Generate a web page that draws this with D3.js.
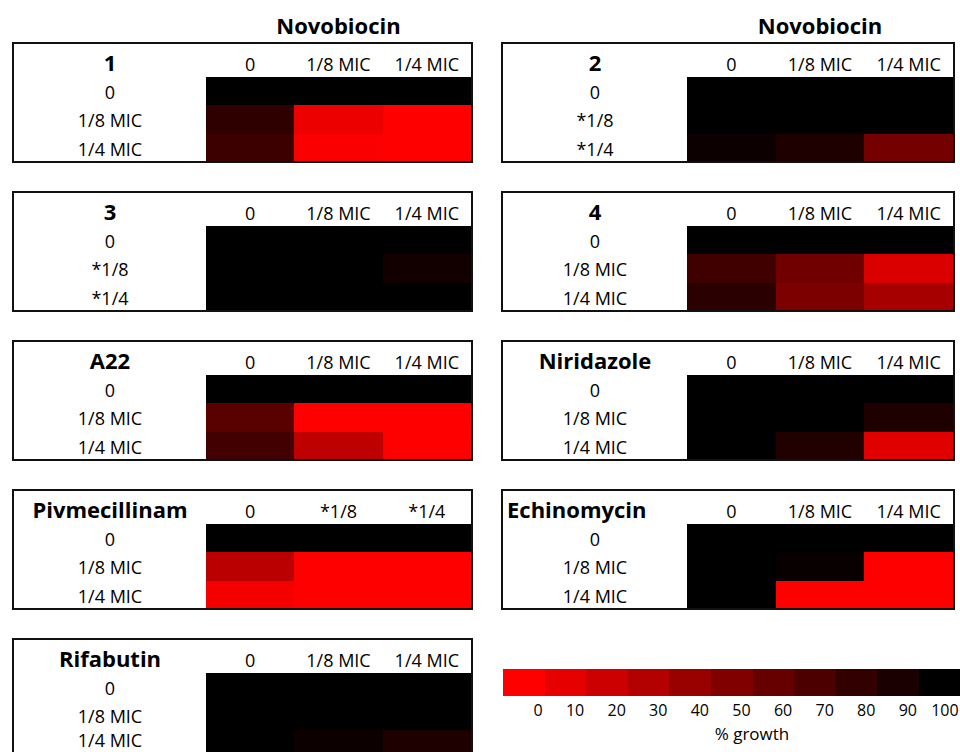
<!DOCTYPE html>
<html lang="en">
<head>
<meta charset="UTF-8">
<title>Growth heatmaps</title>
<script src="https://d3js.org/d3.v7.min.js"></script>
<style>
  body { margin: 0; background: #fff; }
  text { font-family: 'Open Sans', 'Noto Sans', sans-serif; fill: #000; }
  .title { font-size: 22px; font-weight: bold; }
  .lab { font-size: 18px; }
  .tick { font-size: 16px; }
  .ltitle { font-size: 17px; }
  rect.cell, rect.swatch { shape-rendering: crispEdges; }
</style>
</head>
<body>
<script>
  const width = 960;
  const height = 752;

  // panel names, in reading order (left, right, left, right ...)
  const panelNames = ["1", "2", "3", "4", "A22", "Niridazole", "Pivmecillinam", "Echinomycin", "Rifabutin"];
  const topTitle = "Novobiocin";

  const labelsMic  = ["0", "1/8 MIC", "1/4 MIC"];
  const labelsStar = ["0", "*1/8", "*1/4"];

  const rowLabels = [labelsMic, labelsStar, labelsStar, labelsMic, labelsMic, labelsMic, labelsMic, labelsMic, labelsMic];
  const colLabels = [labelsMic, labelsMic, labelsMic, labelsMic, labelsMic, labelsMic, labelsStar, labelsMic, labelsMic];

  // % growth, rows x columns
  const growth1          = [[100, 100, 100], [82, 7, 0], [76, 2, 0]];
  const growth2          = [[100, 100, 100], [100, 100, 100], [95, 88, 54]];
  const growth3          = [[100, 100, 100], [100, 100, 93], [100, 100, 100]];
  const growth4          = [[100, 100, 100], [75, 56, 14], [83, 51, 35]];
  const growthA22        = [[100, 100, 100], [65, 0, 0], [74, 25, 0]];
  const growthNiridazole = [[100, 100, 100], [100, 100, 88], [100, 87, 12]];
  const growthPivmec     = [[100, 100, 100], [27, 0, 0], [4, 0, 0]];
  const growthEchino     = [[100, 100, 100], [100, 97, 0], [100, 0, 0]];
  const growthRifabutin  = [[100, 100, 100], [100, 100, 100], [100, 95, 88]];

  const growth = [growth1, growth2, growth3, growth4, growthA22, growthNiridazole, growthPivmec, growthEchino, growthRifabutin];

  const legendTicks = [0, 10, 20, 30, 40, 50, 60, 70, 80, 90, 100];
  const legendTitle = "% growth";

  const color = d3.scaleLinear().domain([0, 100]).range(["#ff0000", "#000000"]);

  const svg = d3.select("body").append("svg")
      .attr("width", width).attr("height", height);

  // left and right column geometry
  const columns = [
    { boxL: 13, boxR: 472, heatL: 206, heatR: 471, labelX: 110 },
    { boxL: 502, boxR: 954, heatL: 687, heatR: 953, labelX: 595 }
  ];
  const top0 = 43, step = 149, headH = 34, heatH = 85, boxH = 119;

  growth.forEach((values, i) => {
    const c = columns[i % 2];
    const y0 = top0 + Math.floor(i / 2) * step;
    const g = svg.append("g");

    const x = d3.scaleBand().domain(d3.range(3)).range([c.heatL, c.heatR]);
    const y = d3.scaleBand().domain(d3.range(3)).range([y0 + headH, y0 + headH + heatH]);

    const cells = values.flatMap((row, r) => row.map((v, k) => ({ r, k, v })));
    g.selectAll("rect.cell").data(cells).join("rect")
        .attr("class", "cell")
        .attr("x", d => x(d.k))
        .attr("y", d => y(d.r))
        .attr("width", x.bandwidth() + 1)
        .attr("height", y.bandwidth() + 1)
        .attr("fill", d => color(d.v));

    g.append("rect")
        .attr("x", c.boxL).attr("y", y0)
        .attr("width", c.boxR - c.boxL).attr("height", boxH)
        .attr("fill", "none").attr("stroke", "#111").attr("stroke-width", 2);

    const name = panelNames[i];
    const leftAligned = name === "Echinomycin";
    g.append("text").attr("class", "title")
        .attr("x", leftAligned ? c.boxL + 5 : c.labelX)
        .attr("y", y0 + 28)
        .attr("text-anchor", leftAligned ? "start" : "middle")
        .text(name);

    g.selectAll("text.col").data(colLabels[i]).join("text")
        .attr("class", "lab col")
        .attr("x", (d, k) => x(k) + x.bandwidth() / 2)
        .attr("y", y0 + 28)
        .attr("text-anchor", "middle")
        .text(d => d);

    // bottom panel runs off the page, keep its last label inside
    g.selectAll("text.row").data(rowLabels[i]).join("text")
        .attr("class", "lab row")
        .attr("x", c.labelX)
        .attr("y", (d, r) => Math.min(y(r) + 22, height - 5))
        .attr("text-anchor", "middle")
        .text(d => d);

    if (i < 2) {
      svg.append("text").attr("class", "title")
          .attr("x", (c.heatL + c.heatR) / 2)
          .attr("y", y0 - 9)
          .attr("text-anchor", "middle")
          .text(topTitle);
    }
  });

  // legend
  const lx = d3.scaleBand().domain(legendTicks).range([503, 960.6]);
  const legend = svg.append("g");
  legend.selectAll("rect").data(legendTicks).join("rect")
      .attr("class", "swatch")
      .attr("x", d => lx(d))
      .attr("y", 669)
      .attr("width", lx.bandwidth() + 1)
      .attr("height", 27)
      .attr("fill", d => color(d));
  legend.selectAll("text.tick").data(legendTicks).join("text")
      .attr("class", "tick")
      .attr("x", d => lx(d) + lx.bandwidth() - 2)
      .attr("y", 716)
      .attr("text-anchor", "end")
      .text(d => d);
  legend.append("text").attr("class", "ltitle")
      .attr("x", 752).attr("y", 740)
      .attr("text-anchor", "middle")
      .text(legendTitle);
</script>
</body>
</html>
